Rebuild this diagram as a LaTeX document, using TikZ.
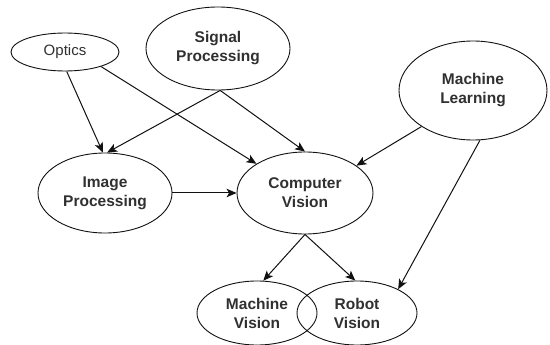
\documentclass[tikz,border=0pt]{standalone}
\usepackage{fontspec}
\setmainfont{Liberation Sans}
\usetikzlibrary{shapes.geometric,arrows.meta}

\definecolor{inkc}{HTML}{111111}
\definecolor{textc}{HTML}{303030}

\tikzset{
  topic/.style={ellipse, draw=inkc, line width=0.9pt, inner sep=0pt,
    align=center, text=textc,
    font=\fontsize{15.5}{19}\selectfont\bfseries},
  link/.style={draw=inkc, line width=1pt,
    -{Stealth[length=10pt,width=8.5pt,inset=2.5pt]}}
}

\begin{document}
\begin{tikzpicture}[x=1pt,y=-1pt]
  \useasboundingbox (0,0) rectangle (550,345);

  % subject areas
  \node[topic, minimum width=108pt, minimum height=38pt,
        font=\fontsize{15}{19}\selectfont] (optics) at (65,52) {Optics};
  \node[topic, minimum width=144pt, minimum height=83pt] (signal) at (218,48.5) {Signal\\Processing};
  \node[topic, minimum width=148pt, minimum height=99pt] (ml) at (473,90.5) {Machine\\Learning};
  \node[topic, minimum width=134pt, minimum height=80pt] (image) at (105,193) {Image\\Processing};
  \node[topic, minimum width=136pt, minimum height=82pt] (cv) at (305,193) {Computer\\Vision};
  \node[topic, minimum width=120pt, minimum height=64pt] (mv) at (257,313) {Machine\\Vision};
  \node[topic, minimum width=120pt, minimum height=64pt] (rv) at (357,313) {Robot\\Vision};

  % influences
  \draw[link] (optics.-85) -- (image.93);
  \draw[link] (signal.-87) -- (image.87);
  \draw[link] (optics.-22) -- (cv.149);
  \draw[link] (signal.-87) -- (cv.90);
  \draw[link] (ml.215.6) -- (cv.28.3);
  \draw[link] (ml.-82) -- (rv.30.2);
  \draw[link] (image.east) -- (cv.west);
  \draw[link] (cv.-90) -- (mv.79.4);
  \draw[link] (cv.-90) -- (rv.93.6);
\end{tikzpicture}
\end{document}
